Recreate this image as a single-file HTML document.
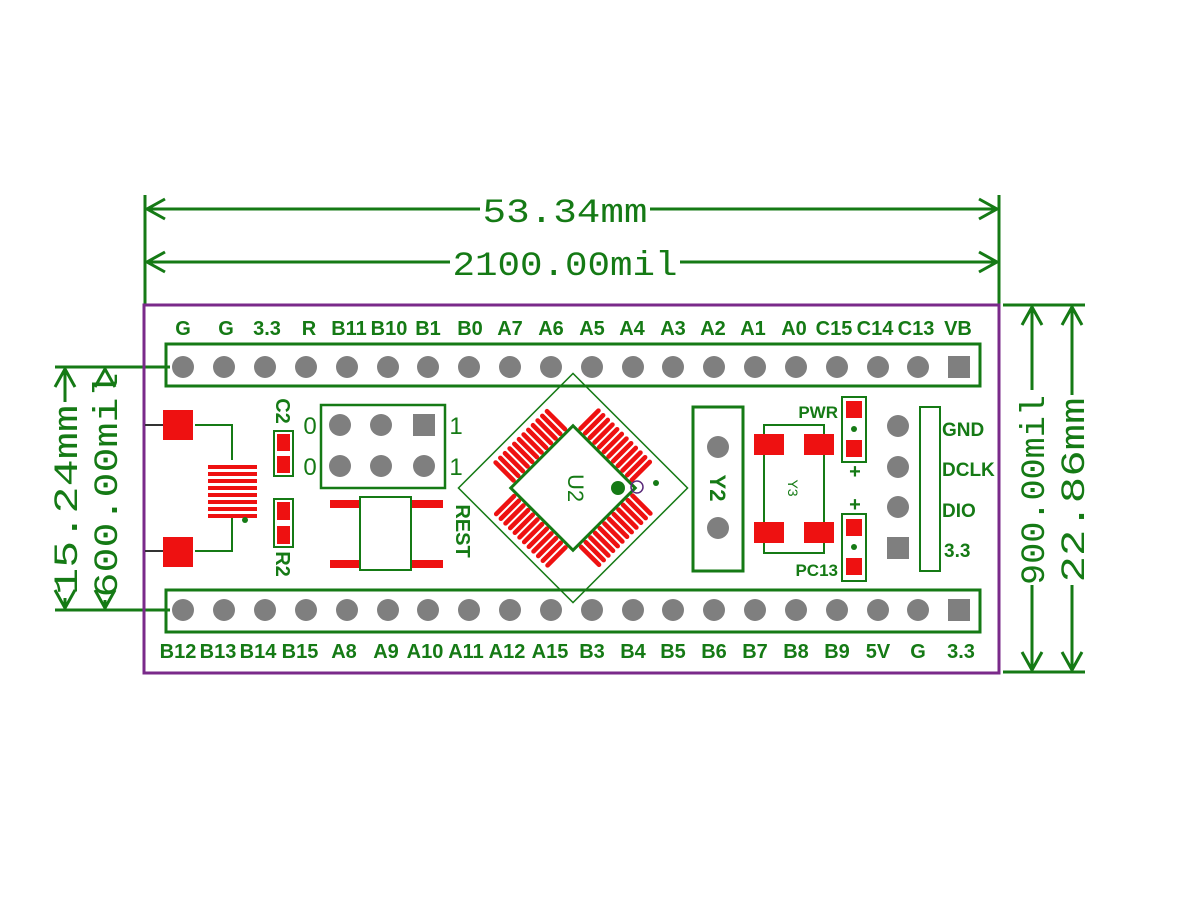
<!DOCTYPE html>
<html><head><meta charset="utf-8"><style>
html,body{margin:0;padding:0;background:#fff;}
svg{display:block}
.l{font-family:"Liberation Sans",sans-serif;font-weight:bold;font-size:20px;fill:#157a15;text-anchor:middle}
.d{font-family:"Liberation Mono",monospace;font-size:34px;fill:#157a15;text-anchor:middle}
</style></head><body>
<svg width="1200" height="900" viewBox="0 0 1200 900" xmlns="http://www.w3.org/2000/svg">
<g stroke="#157a15" stroke-width="3" fill="none">
 <line x1="145" y1="195" x2="145" y2="305"/><line x1="999" y1="195" x2="999" y2="305"/>
 <line x1="147" y1="209" x2="480" y2="209"/><line x1="650" y1="209" x2="997" y2="209"/>
 <line x1="147" y1="262" x2="450" y2="262"/><line x1="680" y1="262" x2="997" y2="262"/>
 <polyline points="165,199 147,209 165,219"/><polyline points="979,199 997,209 979,219"/>
 <polyline points="165,252 147,262 165,272"/><polyline points="979,252 997,262 979,272"/>
 <line x1="1003" y1="305" x2="1085" y2="305"/><line x1="1003" y1="672" x2="1085" y2="672"/>
 <line x1="1032" y1="307" x2="1032" y2="390"/><line x1="1032" y1="585" x2="1032" y2="670"/>
 <line x1="1072" y1="307" x2="1072" y2="395"/><line x1="1072" y1="585" x2="1072" y2="670"/>
 <polyline points="1022,325 1032,307 1042,325"/><polyline points="1022,652 1032,670 1042,652"/>
 <polyline points="1062,325 1072,307 1082,325"/><polyline points="1062,652 1072,670 1082,652"/>
 <line x1="55" y1="367" x2="170" y2="367"/><line x1="55" y1="610" x2="170" y2="610"/>
 <line x1="65" y1="369" x2="65" y2="402"/><line x1="65" y1="598" x2="65" y2="608"/>
 <line x1="105" y1="369" x2="105" y2="372"/><line x1="105" y1="600" x2="105" y2="608"/>
 <polyline points="55,387 65,369 75,387"/><polyline points="55,590 65,608 75,590"/>
 <polyline points="95,387 105,369 115,387"/><polyline points="95,590 105,608 115,590"/>
</g>
<text class="d" x="565" y="222" textLength="165" lengthAdjust="spacingAndGlyphs">53.34mm</text>
<text class="d" x="565" y="275" textLength="225" lengthAdjust="spacingAndGlyphs">2100.00mil</text>
<text class="d" transform="translate(1044,490) rotate(-90)" textLength="190" lengthAdjust="spacingAndGlyphs">900.00mil</text>
<text class="d" transform="translate(1084,490) rotate(-90)" textLength="185" lengthAdjust="spacingAndGlyphs">22.86mm</text>
<text class="d" transform="translate(77,500) rotate(-90)" textLength="190" lengthAdjust="spacingAndGlyphs">15.24mm</text>
<text class="d" transform="translate(117,485) rotate(-90)" textLength="225" lengthAdjust="spacingAndGlyphs">600.00mil</text>

<rect x="144" y="305" width="855" height="368" fill="none" stroke="#7a2a8a" stroke-width="3"/>

<g stroke="#157a15" stroke-width="3" fill="none">
 <rect x="166" y="344" width="814" height="42"/>
 <rect x="166" y="590" width="814" height="42"/>
</g>
<g fill="#7f7f7f">
<circle cx="183" cy="367" r="11"/><circle cx="224" cy="367" r="11"/><circle cx="265" cy="367" r="11"/><circle cx="306" cy="367" r="11"/><circle cx="347" cy="367" r="11"/><circle cx="388" cy="367" r="11"/><circle cx="428" cy="367" r="11"/><circle cx="469" cy="367" r="11"/><circle cx="510" cy="367" r="11"/><circle cx="551" cy="367" r="11"/><circle cx="592" cy="367" r="11"/><circle cx="633" cy="367" r="11"/><circle cx="673" cy="367" r="11"/><circle cx="714" cy="367" r="11"/><circle cx="755" cy="367" r="11"/><circle cx="796" cy="367" r="11"/><circle cx="837" cy="367" r="11"/><circle cx="878" cy="367" r="11"/><circle cx="918" cy="367" r="11"/><rect x="948" y="356" width="22" height="22"/>
<circle cx="183" cy="610" r="11"/><circle cx="224" cy="610" r="11"/><circle cx="265" cy="610" r="11"/><circle cx="306" cy="610" r="11"/><circle cx="347" cy="610" r="11"/><circle cx="388" cy="610" r="11"/><circle cx="428" cy="610" r="11"/><circle cx="469" cy="610" r="11"/><circle cx="510" cy="610" r="11"/><circle cx="551" cy="610" r="11"/><circle cx="592" cy="610" r="11"/><circle cx="633" cy="610" r="11"/><circle cx="673" cy="610" r="11"/><circle cx="714" cy="610" r="11"/><circle cx="755" cy="610" r="11"/><circle cx="796" cy="610" r="11"/><circle cx="837" cy="610" r="11"/><circle cx="878" cy="610" r="11"/><circle cx="918" cy="610" r="11"/><rect x="948" y="599" width="22" height="22"/>
</g>
<g class="l">
<text x="183" y="335">G</text><text x="226" y="335">G</text><text x="267" y="335">3.3</text><text x="309" y="335">R</text><text x="349" y="335">B11</text><text x="389" y="335">B10</text><text x="428" y="335">B1</text><text x="470" y="335">B0</text><text x="510" y="335">A7</text><text x="551" y="335">A6</text><text x="592" y="335">A5</text><text x="632" y="335">A4</text><text x="673" y="335">A3</text><text x="713" y="335">A2</text><text x="753" y="335">A1</text><text x="794" y="335">A0</text><text x="834" y="335">C15</text><text x="875" y="335">C14</text><text x="916" y="335">C13</text><text x="958" y="335">VB</text>
<text x="178" y="658">B12</text><text x="218" y="658">B13</text><text x="258" y="658">B14</text><text x="300" y="658">B15</text><text x="344" y="658">A8</text><text x="386" y="658">A9</text><text x="425" y="658">A10</text><text x="466" y="658">A11</text><text x="507" y="658">A12</text><text x="550" y="658">A15</text><text x="592" y="658">B3</text><text x="633" y="658">B4</text><text x="673" y="658">B5</text><text x="714" y="658">B6</text><text x="755" y="658">B7</text><text x="796" y="658">B8</text><text x="837" y="658">B9</text><text x="878" y="658">5V</text><text x="918" y="658">G</text><text x="961" y="658">3.3</text>
</g>

<g stroke="#333" stroke-width="2"><line x1="145" y1="425" x2="163" y2="425"/><line x1="145" y1="551" x2="163" y2="551"/></g>
<g stroke="#157a15" stroke-width="2" fill="none"><polyline points="195,425 232,425 232,460"/><polyline points="195,551 232,551 232,517"/></g>
<g fill="#ee1111">
<rect x="163" y="410" width="30" height="30"/><rect x="163" y="537" width="30" height="30"/>
<rect x="208" y="465" width="49" height="4"/><rect x="208" y="472" width="49" height="4"/><rect x="208" y="479" width="49" height="4"/><rect x="208" y="486" width="49" height="4"/><rect x="208" y="493" width="49" height="4"/><rect x="208" y="500" width="49" height="4"/><rect x="208" y="507" width="49" height="4"/><rect x="208" y="514" width="49" height="4"/>
</g>
<circle cx="245" cy="520" r="3" fill="#157a15"/>
<g stroke="#157a15" stroke-width="2" fill="none"><rect x="274" y="431" width="19" height="45"/><rect x="274" y="499" width="19" height="48"/></g>
<g fill="#ee1111"><rect x="277" y="434" width="13" height="17"/><rect x="277" y="456" width="13" height="17"/><rect x="277" y="502" width="13" height="18"/><rect x="277" y="526" width="13" height="18"/></g>
<text class="l" transform="translate(276,411) rotate(90)">C2</text>
<text class="l" transform="translate(276,564) rotate(90)">R2</text>
<rect x="321" y="405" width="124" height="83" fill="none" stroke="#157a15" stroke-width="2.5"/>
<g fill="#7f7f7f"><circle cx="340" cy="425" r="11"/><circle cx="381" cy="425" r="11"/><rect x="413" y="414" width="22" height="22"/><circle cx="340" cy="466" r="11"/><circle cx="381" cy="466" r="11"/><circle cx="424" cy="466" r="11"/></g>
<g class="l" style="font-weight:normal;font-size:24px"><text x="310" y="434">0</text><text x="310" y="475">0</text><text x="456" y="434">1</text><text x="456" y="475">1</text></g>
<g fill="#ee1111"><rect x="330" y="500" width="30" height="8"/><rect x="411" y="500" width="32" height="8"/><rect x="330" y="560" width="30" height="8"/><rect x="411" y="560" width="32" height="8"/></g>
<rect x="360" y="497" width="51" height="73" fill="none" stroke="#157a15" stroke-width="2"/>
<text class="l" transform="translate(456,531) rotate(90)">REST</text>

<g transform="translate(573,488) rotate(45)">
 <rect x="-81" y="-81" width="162" height="162" fill="none" stroke="#157a15" stroke-width="1.5"/>
 <g id="pads" fill="#ee1111">
  <rect x="-39" y="-75" width="4.6" height="30" rx="2.3"/><rect x="-32.4" y="-75" width="4.6" height="30" rx="2.3"/><rect x="-25.8" y="-75" width="4.6" height="30" rx="2.3"/><rect x="-19.2" y="-75" width="4.6" height="30" rx="2.3"/><rect x="-12.6" y="-75" width="4.6" height="30" rx="2.3"/><rect x="-6" y="-75" width="4.6" height="30" rx="2.3"/><rect x="0.6" y="-75" width="4.6" height="30" rx="2.3"/><rect x="7.2" y="-75" width="4.6" height="30" rx="2.3"/><rect x="13.8" y="-75" width="4.6" height="30" rx="2.3"/><rect x="20.4" y="-75" width="4.6" height="30" rx="2.3"/><rect x="27" y="-75" width="4.6" height="30" rx="2.3"/><rect x="33.6" y="-75" width="4.6" height="30" rx="2.3"/>
 </g>
 <use href="#pads" transform="rotate(90)"/><use href="#pads" transform="rotate(180)"/><use href="#pads" transform="rotate(270)"/>
 <rect x="-44" y="-44" width="88" height="88" fill="#fff" stroke="#157a15" stroke-width="3"/>
</g>
<circle cx="618" cy="488" r="7" fill="#157a15"/>
<circle cx="637" cy="487" r="6" fill="none" stroke="#5a2a7a" stroke-width="1.5"/>
<circle cx="656" cy="483" r="3" fill="#157a15"/>
<text class="l" style="font-weight:normal;font-size:22px" transform="translate(568,488) rotate(90)">U2</text>

<rect x="693" y="407" width="50" height="164" fill="none" stroke="#157a15" stroke-width="3"/>
<g fill="#7f7f7f"><circle cx="718" cy="447" r="11"/><circle cx="718" cy="528" r="11"/></g>
<text class="l" style="font-size:22px" transform="translate(710,488) rotate(90)">Y2</text>
<rect x="764" y="425" width="60" height="128" fill="none" stroke="#157a15" stroke-width="2"/>
<g fill="#ee1111"><rect x="754" y="434" width="30" height="21"/><rect x="804" y="434" width="30" height="21"/><rect x="754" y="522" width="30" height="21"/><rect x="804" y="522" width="30" height="21"/></g>
<text class="l" style="font-weight:normal;font-size:14px" transform="translate(788,488) rotate(90)">Y3</text>
<g stroke="#157a15" stroke-width="2" fill="none"><rect x="842" y="397" width="24" height="65"/><rect x="842" y="514" width="24" height="67"/></g>
<g fill="#ee1111"><rect x="846" y="401" width="16" height="17"/><rect x="846" y="440" width="16" height="17"/><rect x="846" y="519" width="16" height="17"/><rect x="846" y="558" width="16" height="17"/></g>
<g fill="#157a15"><circle cx="854" cy="429" r="3"/><circle cx="854" cy="547" r="3"/></g>
<g class="l"><text x="838" y="418" style="font-size:17px;text-anchor:end">PWR</text><text x="855" y="478">+</text><text x="855" y="511">+</text><text x="838" y="576" style="font-size:17px;text-anchor:end">PC13</text></g>
<g fill="#7f7f7f"><circle cx="898" cy="426" r="11"/><circle cx="898" cy="467" r="11"/><circle cx="898" cy="507" r="11"/><rect x="887" y="537" width="22" height="22"/></g>
<rect x="920" y="407" width="20" height="164" fill="none" stroke="#157a15" stroke-width="2"/>
<g class="l" style="text-anchor:start;font-size:19px"><text x="942" y="436">GND</text><text x="942" y="476">DCLK</text><text x="942" y="517">DIO</text><text x="944" y="557">3.3</text></g>
</svg>
</body></html>
